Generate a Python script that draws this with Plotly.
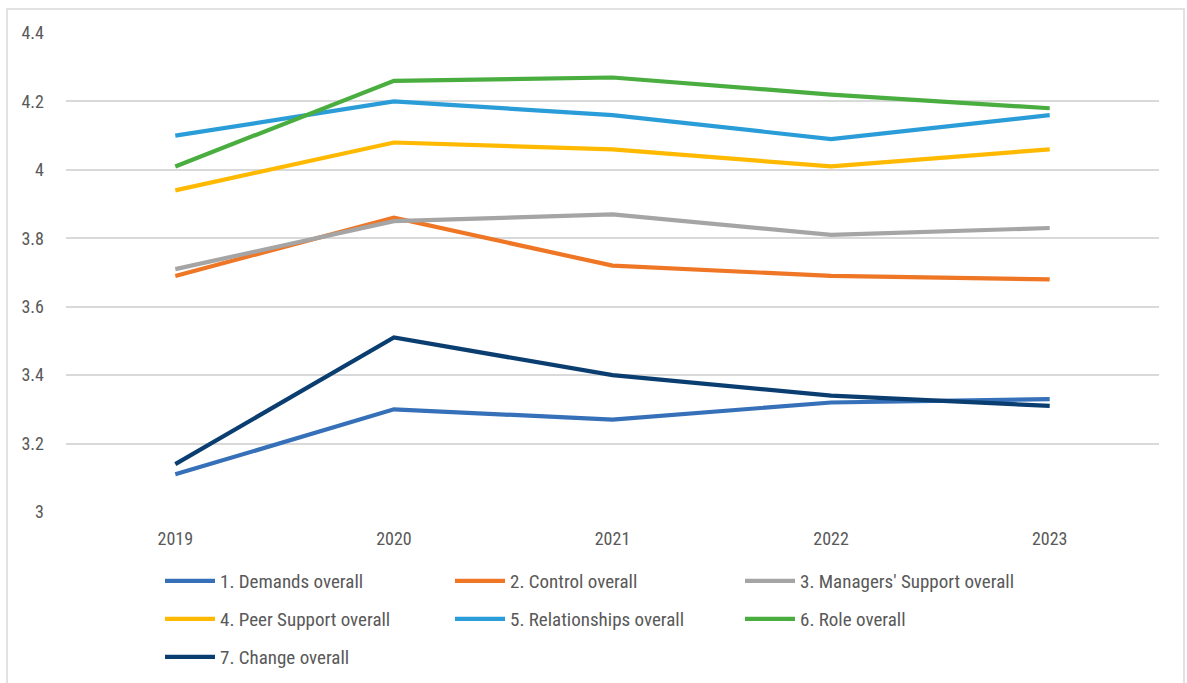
import plotly.graph_objects as go

years = ["2019", "2020", "2021", "2022", "2023"]
series_names = [
    "1. Demands overall",
    "2. Control overall",
    "3. Managers' Support overall",
    "4. Peer Support overall",
    "5. Relationships overall",
    "6. Role overall",
    "7. Change overall",
]
demands = [3.11, 3.30, 3.27, 3.32, 3.33]
control = [3.69, 3.86, 3.72, 3.69, 3.68]
managers = [3.71, 3.85, 3.87, 3.81, 3.83]
peer = [3.94, 4.08, 4.06, 4.01, 4.06]
relationships = [4.10, 4.20, 4.16, 4.09, 4.16]
role = [4.01, 4.26, 4.27, 4.22, 4.18]
change = [3.14, 3.51, 3.40, 3.34, 3.31]
values = [demands, control, managers, peer, relationships, role, change]
colors = ["#3570b9", "#ee7625", "#a5a5a5", "#ffb900", "#2a9dd9", "#49ae3f", "#0b3e70"]
y_ticks = [3, 3.2, 3.4, 3.6, 3.8, 4, 4.2, 4.4]

W, H = 1187, 683
L, R, T, B = 66, 28, 33, 171
font_family = "Liberation Sans Narrow, Roboto Condensed, Arial Narrow, Roboto, sans-serif"

pw = W - L - R
ph = H - T - B

fig = go.Figure()
legend_ids = ["legend", "legend", "legend", "legend2", "legend2", "legend2", "legend3"]
for name, vals, col, lg in zip(series_names, values, colors, legend_ids):
    fig.add_trace(go.Scatter(x=list(range(len(years))), y=vals, name=name, mode="lines",
                             line=dict(color=col, width=4.2), legend=lg))

fig.add_shape(type="rect", xref="paper", yref="paper",
              x0=(7 - L) / pw, x1=(1184 - L) / pw,
              y0=(H - 690 - B) / ph, y1=(H - 9 - B) / ph,
              line=dict(color="#d9d9d9", width=1.5), fillcolor="rgba(0,0,0,0)", layer="below")


def legend_at(ycenter):
    return dict(orientation="h", x=(160 - L) / pw, xanchor="left",
                y=(H - ycenter - B) / ph, yanchor="middle",
                entrywidth=225, entrywidthmode="pixels",
                font=dict(size=19, color="#595959"), itemwidth=50,
                bgcolor="rgba(0,0,0,0)")


fig.update_layout(
    width=W, height=H,
    margin=dict(l=L, r=R, t=T, b=B, autoexpand=False),
    paper_bgcolor="white", plot_bgcolor="white",
    font=dict(family=font_family, color="#595959", size=18),
    xaxis=dict(tickmode="array", tickvals=list(range(len(years))), ticktext=years,
               range=[-0.5, 4.5], showgrid=False, showline=False, zeroline=False,
               ticks="", tickfont=dict(size=18), ticklabelstandoff=14),
    yaxis=dict(range=[3, 4.4], tickvals=y_ticks, ticktext=[f"{v:g}" for v in y_ticks],
               showgrid=True, gridcolor="#d9d9d9", gridwidth=1.5, zeroline=False,
               showline=False, ticks="", ticklabelstandoff=21, tickfont=dict(size=18)),
    legend=legend_at(581),
    legend2=legend_at(619),
    legend3=legend_at(657),
    showlegend=True,
)

fig.write_html("out.html")
